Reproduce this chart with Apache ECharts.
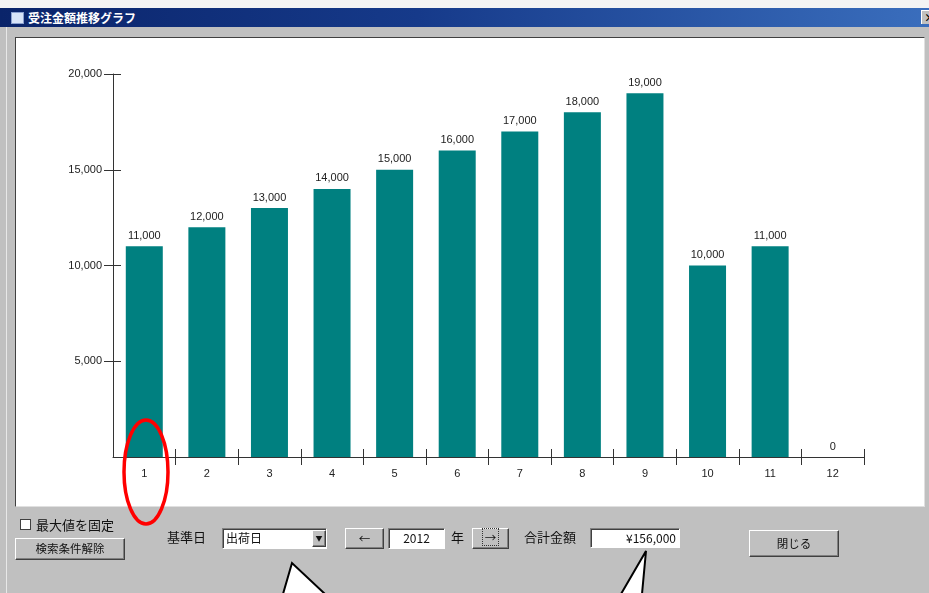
<!DOCTYPE html>
<html>
<head>
<meta charset="utf-8">
<script src="https://cdn.jsdelivr.net/npm/echarts@6/dist/echarts.min.js"></script>
<style>
  html, body { margin: 0; padding: 0; background: #ffffff; }
  body { width: 929px; height: 593px; position: relative; overflow: hidden;
         font-family: "Noto Sans CJK JP", "Liberation Sans", sans-serif; }
  .win { position: absolute; left: 0; top: 0; width: 929px; height: 593px; background: #c0c0c0; }
  .edge { position: absolute; left: 6px; top: 27px; width: 1px; height: 566px; background: #e8e8e8; }
  .titlebar { position: absolute; left: 0; top: 8px; width: 929px; height: 19px;
              background: linear-gradient(to right, #0a246a 0%, #163a8a 45%, #3a6ebd 100%); }
  .topstrip { position: absolute; left: 0; top: 0; width: 929px; height: 8px; background: #f4f4f4; }
  .titlebar .icon { position: absolute; left: 11px; top: 4px; width: 11px; height: 10px;
                    background: #d8e4f8; border: 1px solid #8aa0d0; }
  .titlebar .txt { position: absolute; left: 28px; top: 1px; color: #fff; font-size: 12px;
                   font-weight: bold; line-height: 17px; }
  .closebtn { position: absolute; left: 921px; top: 10px; width: 14px; height: 14px; background: #c0c0c0;
              border-top: 1px solid #fff; border-left: 1px solid #fff; font-size: 11px; line-height: 13px;
              font-weight: bold; padding-left: 2px; box-sizing: border-box; }
  .panel { position: absolute; left: 15px; top: 37px; width: 908px; height: 468px; background: #fff;
           border-top: 1px solid #404040; border-left: 1px solid #404040;
           border-right: 1px solid #e0e0e0; border-bottom: 1px solid #e0e0e0; }
  #chart { position: absolute; left: 0; top: 0; width: 929px; height: 593px; }
  .lbl { position: absolute; font-size: 12.5px; color: #111; line-height: 16px; white-space: nowrap; }
  .btn { position: absolute; background: #c0c0c0; box-sizing: border-box; font-size: 11.5px; color: #111;
         text-align: center; border-top: 1px solid #fff; border-left: 1px solid #fff;
         border-right: 1px solid #404040; border-bottom: 1px solid #404040;
         box-shadow: inset -1px -1px 0 #808080; }
  .box { position: absolute; background: #fff; box-sizing: border-box; font-size: 12px; color: #111;
         border-top: 1px solid #808080; border-left: 1px solid #808080;
         border-right: 1px solid #fff; border-bottom: 1px solid #fff;
         box-shadow: inset 1px 1px 0 #404040; line-height: 17px; white-space: nowrap; }
  .chk { position: absolute; left: 20px; top: 519px; width: 11px; height: 11px; background: #fff;
         border: 1px solid #404040; box-sizing: border-box; }
  svg.overlay { position: absolute; left: 0; top: 0; }
</style>
</head>
<body>
<div class="win"></div>
<div class="topstrip"></div>
<div class="edge"></div>
<div class="titlebar"><div class="icon"></div><div class="txt">受注金額推移グラフ</div></div>
<div class="closebtn">×</div>
<div class="panel"></div>
<div id="chart"></div>

<div class="chk"></div>
<div class="lbl" style="left:36px; top:517px; font-size:13px;">最大値を固定</div>
<div class="btn" style="left:15px; top:538px; width:110px; height:22px; line-height:19px;">検索条件解除</div>
<div class="lbl" style="left:167px; top:529px; font-size:13px;">基準日</div>
<div class="box" style="left:222px; top:528px; width:105px; height:21px; padding-left:3px;">出荷日
  <div class="btn" style="left:89px; top:1px; width:14px; height:17px; font-size:7px; line-height:15px;">▼</div>
</div>
<div class="btn" style="left:345px; top:528px; width:39px; height:21px; line-height:18px;">←</div>
<div class="box" style="left:388px; top:528px; width:57px; height:21px; text-align:center;">2012</div>
<div class="lbl" style="left:451px; top:529px; font-size:13px;">年</div>
<div class="btn" style="left:472px; top:528px; width:37px; height:21px; line-height:17px;">
  <span style="border:1px dotted #333; padding:0 2px;">→</span></div>
<div class="lbl" style="left:524px; top:529px; font-size:13px;">合計金額</div>
<div class="box" style="left:590px; top:528px; width:90px; height:20px; text-align:right; padding-right:3px;">¥156,000</div>
<div class="btn" style="left:749px; top:530px; width:90px; height:27px; line-height:24px;">閉じる</div>

<svg class="overlay" width="929" height="593">
  <ellipse cx="146" cy="472" rx="22" ry="52" fill="none" stroke="#ff0000" stroke-width="3.5"/>
  <polygon points="292,563 283,594 325,594" fill="#ffffff" stroke="#000" stroke-width="2"/>
  <polygon points="646,551 621,594 642,594" fill="#ffffff" stroke="#000" stroke-width="2"/>
</svg>

<script>
// 月
var months = ['1', '2', '3', '4', '5', '6', '7', '8', '9', '10', '11', '12'];
// 受注金額
var amounts = [11000, 12000, 13000, 14000, 15000, 16000, 17000, 18000, 19000, 10000, 11000, 0];
// Y軸目盛
var yTicks = [5000, 10000, 15000, 20000];
// X軸目盛（月の区切り）
var xTicks = [1, 2, 3, 4, 5, 6, 7, 8, 9, 10, 11, 12];

var chart = echarts.init(document.getElementById('chart'), null, { renderer: 'canvas' });

var fmt = function (v) {
  return String(v).replace(/\B(?=(\d{3})+(?!\d))/g, ',');
};

// 目盛だけを描く補助軸
var tickAxis = function (type, inside, len, min, max, ticks) {
  return {
    type: type,
    min: min,
    max: max,
    splitLine: { show: false },
    axisLine: { show: true, onZero: false, lineStyle: { color: '#333', opacity: 0 } },
    axisTick: { show: true, inside: inside, length: len, customValues: ticks, lineStyle: { color: '#333' } },
    axisLabel: { show: false }
  };
};

var xIn = tickAxis('value', true, 8, 0, 12, xTicks);
var xOut = tickAxis('value', false, 8, 0, 12, xTicks);
xIn.position = 'bottom';
xOut.position = 'bottom';
var yIn = tickAxis('value', true, 8, 0, 20000, yTicks);
yIn.position = 'left';
yIn.offset = 0;

var option = {
  animation: false,
  backgroundColor: 'transparent',
  grid: { left: 113, top: 74, width: 751, height: 383, containLabel: false },
  xAxis: [
    {
      type: 'category',
      data: months,
      position: 'bottom',
      axisLine: { lineStyle: { color: '#333', width: 1 } },
      axisTick: { show: false },
      axisLabel: { color: '#222', fontSize: 11, fontFamily: 'Liberation Sans', margin: 11 }
    },
    xIn,
    xOut
  ],
  yAxis: [
    {
      type: 'value',
      min: 0,
      max: 20000,
      interval: 5000,
      position: 'left',
      splitLine: { show: false },
      axisLine: { show: true, lineStyle: { color: '#333', width: 1 } },
      axisTick: { show: true, length: 9, customValues: yTicks, lineStyle: { color: '#333' } },
      axisLabel: { color: '#222', fontSize: 11, fontFamily: 'Liberation Sans', margin: 11,
                   customValues: yTicks, formatter: fmt }
    },
    yIn
  ],
  series: [
    {
      type: 'bar',
      xAxisIndex: 0,
      yAxisIndex: 0,
      data: amounts,
      barWidth: 37,
      itemStyle: { color: '#008080' },
      label: {
        show: true,
        position: 'top',
        distance: 5,
        color: '#222',
        fontSize: 11,
        fontFamily: 'Liberation Sans',
        formatter: function (p) { return fmt(p.value); }
      }
    }
  ]
};
chart.setOption(option);
</script>
</body>
</html>
